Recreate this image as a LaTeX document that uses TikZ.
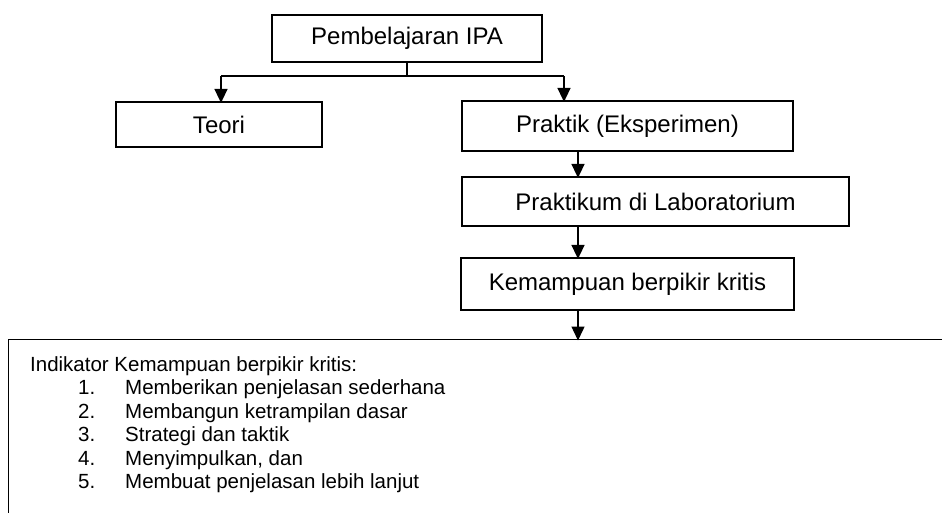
\documentclass[tikz,border=0pt]{standalone}
\usepackage{fontspec}
\setmainfont{Liberation Sans}
\usetikzlibrary{arrows.meta}
\begin{document}
\begin{tikzpicture}[x=1pt,y=-1pt,
  box/.style={draw,line width=1.2pt,minimum width=#1,inner sep=0pt,font=\fontsize{24}{28}\selectfont},
  conn/.style={line width=1.4pt},
  arr/.style={line width=1.4pt,-{Triangle[width=13pt,length=14pt]}},
  item/.style={anchor=base west,inner sep=0pt,font=\fontsize{20.5}{23.5}\selectfont}]
\useasboundingbox (0,0) rectangle (942,512);
\node[box=270pt,minimum height=47pt] (ipa) at (407,38.5) {Pembelajaran IPA};
\node[box=206pt,minimum height=45pt] (teori) at (219,124.5) {Teori};
\node[box=331pt,minimum height=50pt] (praktik) at (627.5,126) {Praktik (Eksperimen)};
\node[box=387pt,minimum height=49pt] (lab) at (655.5,201.5) {Praktikum di Laboratorium};
\node[box=333pt,minimum height=52pt] (kbk) at (627.5,284) {Kemampuan berpikir kritis};
\coordinate (bl) at (221,76);
\coordinate (br) at (564,76);
\coordinate (bm) at (ipa.south |- bl);
\draw[conn] (ipa.south) -- (bm);
\draw[conn] (bl) -- (br);
\draw[arr] (bl) -- ([yshift=-1.5pt]bl |- teori.north);
\draw[arr] (br) -- ([yshift=-1.5pt]br |- praktik.north);
\coordinate (ax) at (578,0);
\draw[arr] (ax |- praktik.south) -- ([yshift=-1.5pt]ax |- lab.north);
\draw[arr] (ax |- lab.south) -- ([yshift=-1.5pt]ax |- kbk.north);
\begin{scope}
\clip (0,0) rectangle (942,512);
\node[draw,line width=1.2pt,inner sep=0pt,minimum width=960pt,minimum height=200pt,anchor=north west] (ind) at (8,339) {};
\end{scope}
\draw[arr] (ax |- kbk.south) -- ([yshift=-1.5pt]ax |- ind.north);
\node[item] (h) at (30,371) {Indikator Kemampuan berpikir kritis:};
\node[item] (n1) at (78,394.5) {1.};
\node[item] (t1) at (125,394.5) {Memberikan penjelasan sederhana};
\node[item] (n2) at (78,418) {2.};
\node[item] (t2) at (125,418) {Membangun ketrampilan dasar};
\node[item] (n3) at (78,441.5) {3.};
\node[item] (t3) at (125,441.5) {Strategi dan taktik};
\node[item] (n4) at (78,465) {4.};
\node[item] (t4) at (125,465) {Menyimpulkan, dan};
\node[item] (n5) at (78,488.5) {5.};
\node[item] (t5) at (125,488.5) {Membuat penjelasan lebih lanjut};
\end{tikzpicture}
\end{document}
